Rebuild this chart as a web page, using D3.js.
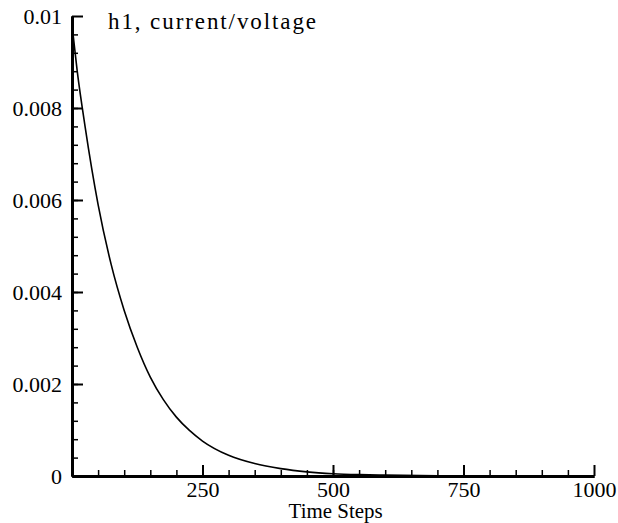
<!DOCTYPE html>
<html>
<head>
<meta charset="utf-8">
<script src="https://cdn.jsdelivr.net/npm/d3@7"></script>
<style>
  body { margin: 0; background: #fff; }
  svg text { font-family: "Liberation Serif", "Times New Roman", serif; fill: #000; }
</style>
</head>
<body>
<div id="chart"></div>
<script>
// values
var timeSteps = [0, 10, 25, 50, 75, 100, 125, 150, 175, 200, 225, 250, 300, 350, 400, 450, 500, 550, 600, 700, 800, 900, 1000];
var h1Values = [0.0098, 0.0088, 0.0076, 0.0059, 0.0046, 0.0036, 0.0028, 0.00215, 0.00166, 0.00128, 0.00099, 0.00076,
                0.00045, 0.00027, 0.00016, 0.00009, 0.00005, 0.00003, 0.00002, 0.000007, 0.000003, 0.000001, 0];
var xTickValues = [250, 500, 750, 1000];
var yTickValues = [0, 0.002, 0.004, 0.006, 0.008, 0.01];
var yTickLabels = ["0", "0.002", "0.004", "0.006", "0.008", "0.01"];
var xMinorTicks = d3.range(50, 1000, 50);
var yMinorTicks = d3.range(0.0004, 0.01, 0.0004);
var titleText = "h1, current/voltage";
var xTitle = "Time Steps";

var svgWidth = 618, svgHeight = 523;
var margin = { top: 16, right: 24, bottom: 47, left: 72 };
var width = svgWidth - margin.left - margin.right,
    height = svgHeight - margin.top - margin.bottom;

var svg = d3.select("#chart").append("svg")
    .attr("width", svgWidth)
    .attr("height", svgHeight);

var g = svg.append("g")
    .attr("transform", "translate(" + margin.left + "," + margin.top + ")");

var x = d3.scaleLinear().domain([0, 1000]).range([0, width]);
var y = d3.scaleLinear().domain([0, 0.01]).range([height, 0]);

// minor ticks, pointing inward
g.append("g")
    .attr("class", "axis axis--y-minor")
    .call(d3.axisLeft(y).tickValues(yMinorTicks).tickSize(-6).tickSizeOuter(0).tickFormat(""));
g.append("g")
    .attr("class", "axis axis--x-minor")
    .attr("transform", "translate(0," + height + ")")
    .call(d3.axisBottom(x).tickValues(xMinorTicks).tickSize(-6).tickSizeOuter(0).tickFormat(""));

// major ticks
var yAxis = d3.axisLeft(y)
    .tickValues(yTickValues)
    .tickSize(-11)
    .tickSizeOuter(0)
    .tickFormat(function (d, i) { return yTickLabels[i]; });
var xAxis = d3.axisBottom(x)
    .tickValues(xTickValues)
    .tickSize(-11)
    .tickSizeOuter(0)
    .tickPadding(13)
    .tickFormat(d3.format("d"));

var gy = g.append("g").attr("class", "axis axis--y").call(yAxis);
var gx = g.append("g").attr("class", "axis axis--x")
    .attr("transform", "translate(0," + height + ")")
    .call(xAxis);

g.selectAll(".axis path.domain").attr("stroke", "#000").attr("stroke-width", 3);
g.selectAll(".axis .tick line").attr("stroke", "#000").attr("stroke-width", 2);
g.selectAll(".axis--x-minor .tick line, .axis--y-minor .tick line").attr("stroke-width", 1.5);
g.selectAll(".axis text").style("font-size", "22px").attr("fill", "#000");
gy.selectAll("text").attr("x", -10);
gx.selectAll("text").attr("dy", "0.35em");

// curve
var line = d3.line()
    .curve(d3.curveMonotoneX)
    .x(function (d, i) { return x(timeSteps[i]); })
    .y(function (d) { return y(d); });

g.append("path")
    .datum(h1Values)
    .attr("fill", "none")
    .attr("stroke", "#000")
    .attr("stroke-width", 1.6)
    .attr("d", line);

// title and axis label
svg.append("text")
    .attr("x", 108)
    .attr("y", 29)
    .style("font-size", "23px")
    .attr("textLength", 208)
    .attr("lengthAdjust", "spacing")
    .text(titleText);

svg.append("text")
    .attr("x", margin.left + x(505))
    .attr("y", 518)
    .attr("text-anchor", "middle")
    .style("font-size", "20px")
    .attr("textLength", 94)
    .attr("lengthAdjust", "spacingAndGlyphs")
    .text(xTitle);
</script>
</body>
</html>
